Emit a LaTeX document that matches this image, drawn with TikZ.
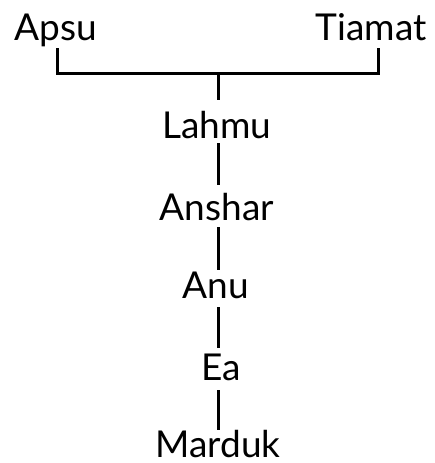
\documentclass[tikz,border=0pt]{standalone}
\usepackage{fontspec}
\setmainfont{Lato}
\begin{document}
\begin{tikzpicture}[x=1pt,y=-1pt,
  god/.style={anchor=base,inner sep=0pt,text height=25pt,text depth=0pt,font=\fontsize{37}{37}\selectfont},
  link/.style={line width=3pt}]
\useasboundingbox (0,0) rectangle (435,463);
\node[god] (apsu) at (56,40) {Apsu};
\node[god] (tiamat) at (371,40) {Tiamat};
\coordinate (join) at (218,73);
\node[god] (lahmu) at (217,138) {Lahmu};
\node[god] (anshar) at (217,220) {Anshar};
\node[god] (anu) at (216,298) {Anu};
\node[god] (ea) at (221,380) {Ea};
\node[god] (marduk) at (218,457) {Marduk};
\draw[link] ([yshift=-8pt]apsu.south -| 57,0) -- (57,0 |- join) -- (378,0 |- join) -- ([yshift=-8pt]tiamat.south -| 378,0);
\draw[link] (join) -- ([yshift=-27pt]join);
\draw[link] ([yshift=-5pt]lahmu.south -| join) -- ([yshift=10pt]anshar.north -| join);
\draw[link] ([yshift=-7pt]anshar.south -| join) -- ([yshift=3pt]anu.north -| join);
\draw[link] ([yshift=-9pt]anu.south -| join) -- ([yshift=7pt]ea.north -| join);
\draw[link] ([yshift=-10pt]ea.south -| join) -- ([yshift=2pt]marduk.north -| join);
\end{tikzpicture}
\end{document}
